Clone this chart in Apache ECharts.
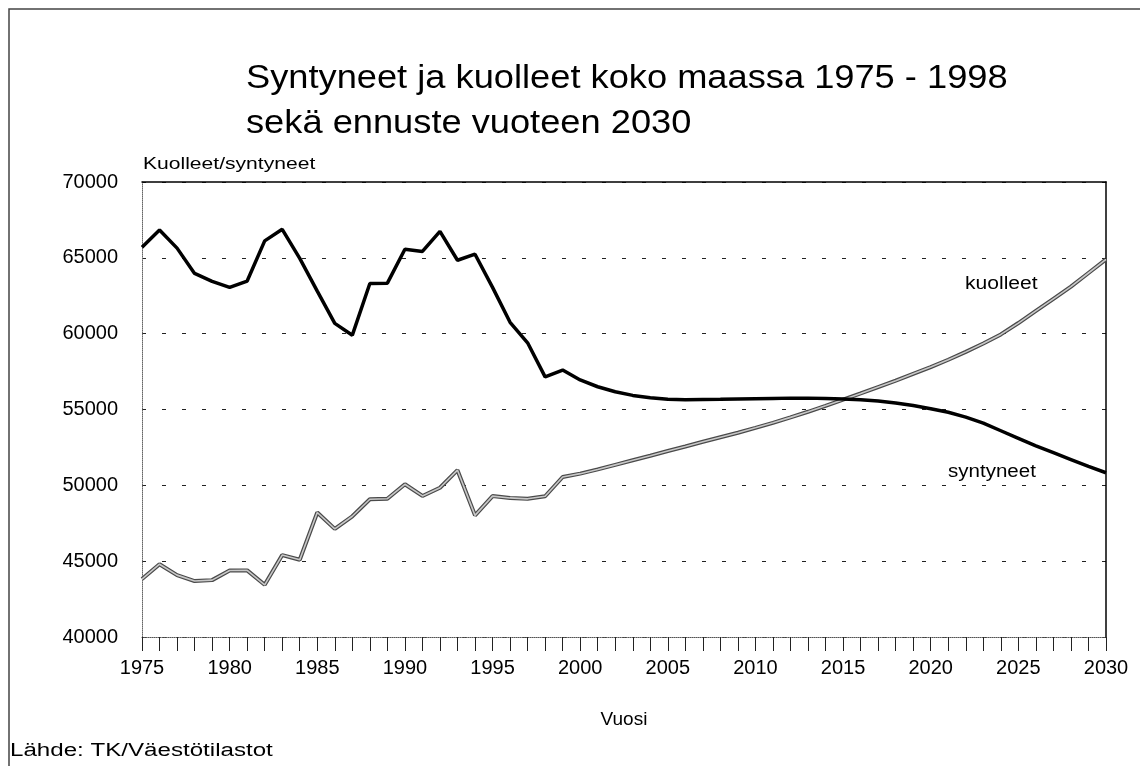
<!DOCTYPE html>
<html>
<head>
<meta charset="utf-8">
<script src="https://cdn.jsdelivr.net/npm/echarts@6/dist/echarts.min.js"></script>
<style>
  html, body { margin: 0; padding: 0; background: #fff; }
  #chart { width: 1140px; height: 766px; }
</style>
</head>
<body>
<div id="chart"></div>
<script>
const years = [
  '1975', '1976', '1977', '1978', '1979', '1980', '1981', '1982', '1983', '1984',
  '1985', '1986', '1987', '1988', '1989', '1990', '1991', '1992', '1993', '1994',
  '1995', '1996', '1997', '1998', '1999', '2000', '2001', '2002', '2003', '2004',
  '2005', '2006', '2007', '2008', '2009', '2010', '2011', '2012', '2013', '2014',
  '2015', '2016', '2017', '2018', '2019', '2020', '2021', '2022', '2023', '2024',
  '2025', '2026', '2027', '2028', '2029', '2030'
]

// syntyneet (musta viiva)
const syntyneet = [
  65700, 66830, 65640, 63970, 63450, 63050, 63470, 66120, 66880, 64960,
  62800, 60680, 59900, 63310, 63330, 65570, 65420, 66740, 64840, 65240,
  63050, 60750, 59400, 57150, 57600, 56950, 56500, 56170, 55930, 55780,
  55680, 55650, 55660, 55670, 55690, 55710, 55730, 55750, 55750, 55730,
  55700, 55650, 55560, 55430, 55260, 55050, 54820, 54500, 54100, 53600,
  53100, 52600, 52150, 51700, 51250, 50830
]

// kuolleet (harmaa viiva)
const kuolleet = [
  43820, 44800, 44080, 43690, 43750, 44380, 44390, 43440, 45400, 45090,
  48210, 47130, 47960, 49080, 49120, 50070, 49300, 49840, 51000, 48020,
  49290, 49170, 49110, 49280, 50550, 50770, 51050, 51350, 51650, 51950,
  52260, 52560, 52870, 53170, 53470, 53790, 54120, 54480, 54850, 55240,
  55650, 56060, 56480, 56900, 57350, 57800, 58280, 58800, 59350, 59950,
  60700, 61500, 62300, 63100, 64000, 64900
]

const font = '"Liberation Sans", Arial, sans-serif'

const chart = echarts.init(document.getElementById('chart'))

// leveitetty teksti (alkuperäinen kuva on venytetty vaakasuunnassa)
const wideText = (text, x, y, size, scaleX, extra) => ({
  type: 'text',
  x: x,
  y: y,
  scaleX: scaleX,
  silent: true,
  style: Object.assign({
    text: text,
    font: size + 'px ' + font,
    fill: '#000',
    verticalAlign: 'top'
  }, extra || {})
})

chart.setOption({
  backgroundColor: '#fff',
  animation: false,
  textStyle: { fontFamily: font, color: '#000' },
  graphic: [
    {
      type: 'rect',
      shape: { x: 9, y: 9, width: 1160, height: 800 },
      style: { fill: 'none', stroke: '#444', lineWidth: 1.5 },
      silent: true
    },
    wideText('Syntyneet ja kuolleet koko maassa 1975 - 1998\nsekä ennuste vuoteen 2030', 246, 56, 34, 1.066, { lineHeight: 45 }),
    wideText('Kuolleet/syntyneet', 143, 156, 17, 1.24),
    wideText('kuolleet', 965, 275, 18, 1.17),
    wideText('syntyneet', 948, 463, 18, 1.14),
    wideText('Lähde: TK/Väestötilastot', 10, 742, 18, 1.34)
  ],
  grid: { left: 142, right: 34, top: 182, bottom: 129, containLabel: false },
  xAxis: [
    {
      type: 'category',
      data: years,
      boundaryGap: false,
      name: 'Vuosi',
      nameLocation: 'middle',
      nameGap: 73,
      nameTextStyle: { fontSize: 19, color: '#000' },
      axisLine: { lineStyle: { color: '#555', type: 'dotted', width: 1 } },
      axisTick: { show: true, interval: 0, length: 14, inside: false, lineStyle: { color: '#222' } },
      axisLabel: { interval: 4, fontSize: 20, color: '#000', margin: 21 },
      splitLine: { show: false }
    },
    {
      type: 'category',
      data: years,
      boundaryGap: false,
      position: 'top',
      axisLine: { lineStyle: { color: '#000', width: 1.5 } },
      axisTick: { show: false },
      axisLabel: { show: false }
    }
  ],
  yAxis: [
    {
      type: 'value',
      min: 40000,
      max: 70000,
      interval: 5000,
      axisLine: { show: true, lineStyle: { color: '#666', type: 'dotted' } },
      axisTick: { show: false },
      axisLabel: { fontSize: 20, color: '#000', margin: 24, formatter: (v) => String(v) },
      splitLine: { show: true, lineStyle: { color: '#222', type: [4, 16], width: 1 } }
    },
    {
      type: 'value',
      min: 40000,
      max: 70000,
      position: 'right',
      axisLine: { show: true, lineStyle: { color: '#000', width: 1.5 } },
      axisTick: { show: false },
      axisLabel: { show: false },
      splitLine: { show: false }
    }
  ],
  series: [
    {
      name: 'kuolleet',
      type: 'line',
      data: kuolleet,
      symbol: 'none',
      lineStyle: { color: '#4a4a4a', width: 4 },
      z: 2
    },
    {
      name: 'kuolleet-sisä',
      type: 'line',
      data: kuolleet,
      symbol: 'none',
      lineStyle: { color: '#c8c8c8', width: 1.6 },
      z: 3
    },
    {
      name: 'syntyneet',
      type: 'line',
      data: syntyneet,
      symbol: 'none',
      lineStyle: { color: '#000', width: 3.5 },
      z: 4
    }
  ]
})

window.addEventListener('resize', () => chart.resize())
</script>
</body>
</html>
